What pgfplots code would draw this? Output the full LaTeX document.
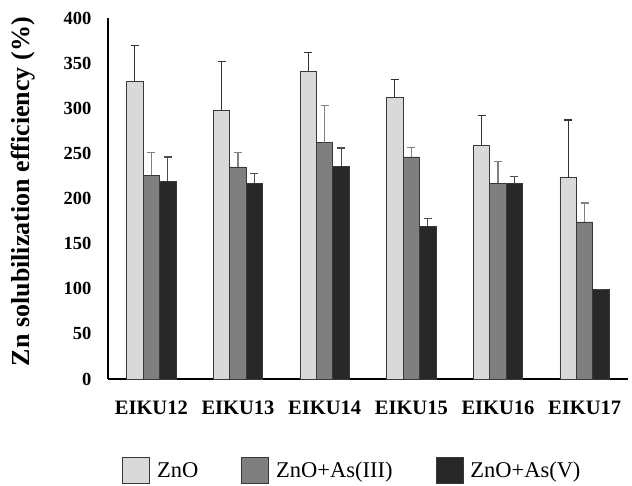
\documentclass[border=0pt]{standalone}
\usepackage{pgfplots}
\pgfplotsset{compat=1.18}
\usepackage{fontspec}
\setmainfont{Liberation Serif}
\definecolor{cA}{HTML}{D9D9D9}
\definecolor{cB}{HTML}{7F7F7F}
\definecolor{cC}{HTML}{282828}
\definecolor{edge}{HTML}{383838}
\begin{document}
\begin{tikzpicture}[x=1pt,y=1pt]
\useasboundingbox (-108,-107) rectangle (524,379);
\begin{axis}[
  at={(0,0)}, anchor=south west,
  scale only axis, width=520pt, height=361pt,
  xmin=-0.5, xmax=5.5, ymin=0, ymax=400,
  ybar=0pt, bar width=0.19,
  axis x line*=bottom, axis y line*=left,
  axis line style={line width=1.6pt, black},
  major tick length=0pt,
  xtick={0,1,2,3,4,5},
  xticklabels={EIKU12,EIKU13,EIKU14,EIKU15,EIKU16,EIKU17},
  ytick={0,50,...,400},
  /pgf/number format/assume math mode=true,
  xticklabel style={font=\fontsize{20.5}{20.5}\selectfont\bfseries, yshift=-18pt},
  yticklabel style={font=\fontsize{18.5}{18.5}\selectfont\bfseries, xshift=-13pt},
  ylabel={Zn solubilization efficiency (\%)},
  ylabel style={font=\fontsize{26}{26}\selectfont\bfseries, at={(axis description cs:-0.163,0.519)}, anchor=center},
  clip=false,
  legend columns=3,
  legend style={draw=none, fill=none, at={(axis description cs:0.47,-0.253)}, anchor=center,
    font=\fontsize{22.5}{22.5}\selectfont,
    /tikz/every even column/.append style={column sep=41pt},
    /tikz/every odd column/.append style={column sep=5pt}},
  legend image code/.code={\draw[#1,bar shift=0pt] (0pt,-13pt) rectangle (27pt,13pt);},
  error bars/y dir=plus, error bars/y explicit,
]
\addplot[fill=cA, draw=edge, line width=0.8pt,
  error bars/error bar style={line width=1.1pt, color=black!80},
  error bars/error mark options={rotate=90, mark size=4pt, line width=1.1pt, color=black!80}]
  coordinates {(0,330) +- (0,40) (1,298) +- (0,54) (2,341) +- (0,21) (3,312) +- (0,20) (4,259) +- (0,33) (5,223) +- (0,64)};
\addplot[fill=cB, draw=edge, line width=0.8pt,
  error bars/error bar style={line width=1.1pt, color=black!50},
  error bars/error mark options={rotate=90, mark size=4pt, line width=1.1pt, color=black!50}]
  coordinates {(0,226) +- (0,25) (1,235) +- (0,16) (2,262) +- (0,41) (3,246) +- (0,11) (4,217) +- (0,24) (5,174) +- (0,21)};
\addplot[fill=cC, draw=edge, line width=0.8pt,
  error bars/error bar style={line width=1.1pt, color=black!70},
  error bars/error mark options={rotate=90, mark size=4pt, line width=1.1pt, color=black!70}]
  coordinates {(0,219) +- (0,27) (1,217) +- (0,11) (2,236) +- (0,20) (3,169) +- (0,9) (4,217) +- (0,7) (5,99) +- (0,0)};
\legend{ZnO, ZnO+As(III), ZnO+As(V)}
\end{axis}
\end{tikzpicture}
\end{document}
